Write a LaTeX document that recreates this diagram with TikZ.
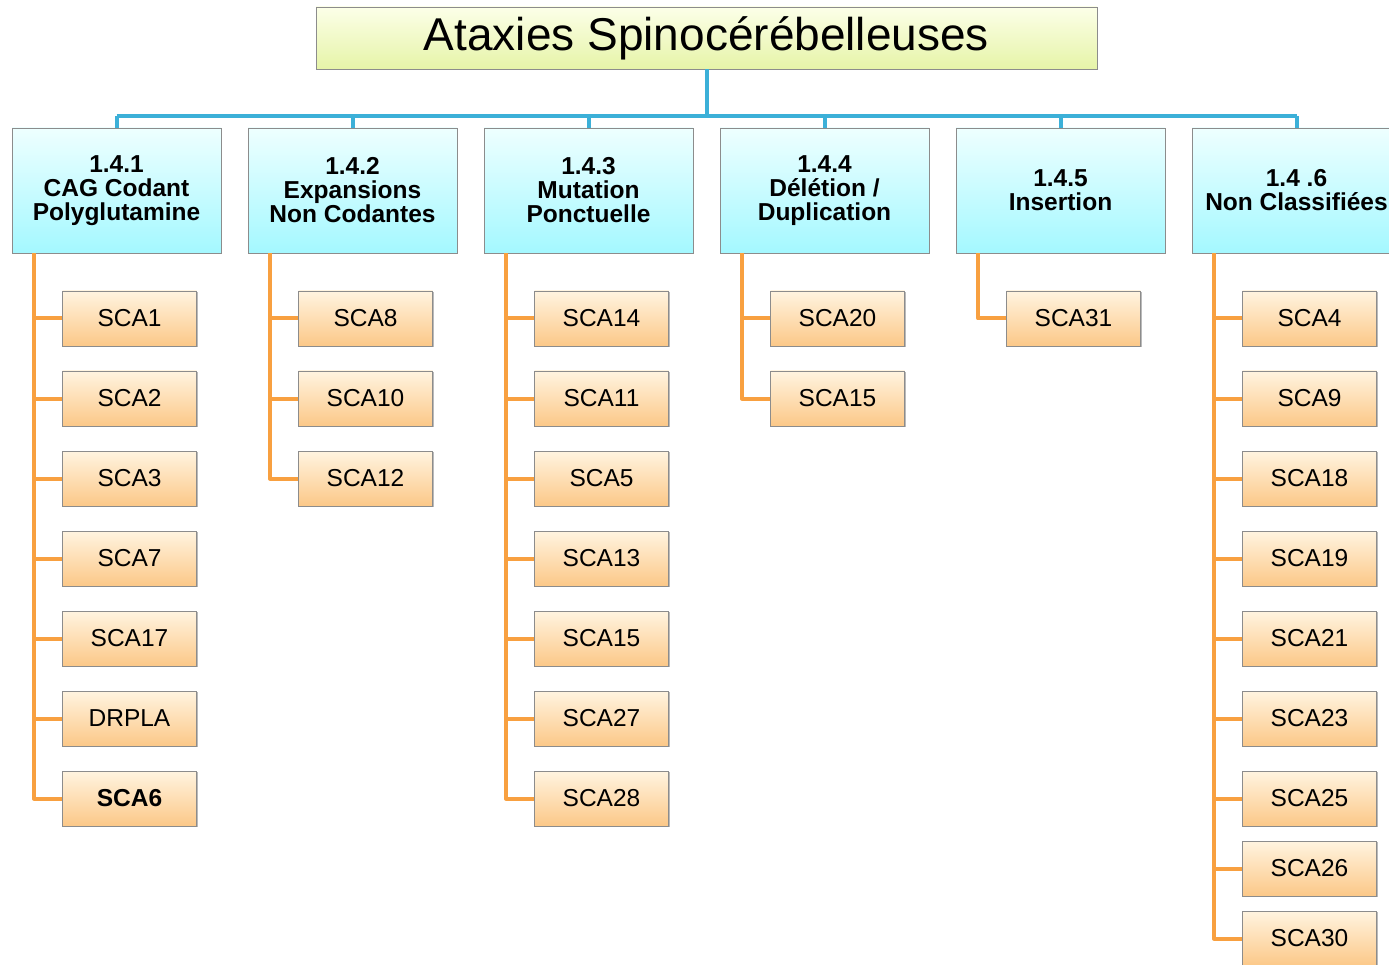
\documentclass[tikz,border=0pt]{standalone}
\usepackage{fontspec}
\setmainfont{Liberation Sans}
\usetikzlibrary{positioning,shadows}
\definecolor{scablue}{RGB}{60,176,216}
\definecolor{scaorange}{RGB}{248,160,64}
\definecolor{scagray}{RGB}{140,140,140}
\definecolor{headtop}{RGB}{252,255,232}
\definecolor{headbot}{RGB}{230,244,168}
\definecolor{famtop}{RGB}{238,255,255}
\definecolor{fambot}{RGB}{164,248,255}
\definecolor{genetop}{RGB}{255,244,224}
\definecolor{genebot}{RGB}{252,200,136}

\begin{document}
\begin{tikzpicture}[
  x=1pt, y=-1pt,
  every node/.style={inner sep=0pt, align=center},
  headbox/.style={draw=scagray, top color=headtop, bottom color=headbot,
    minimum width=781pt, minimum height=62pt,
    font=\fontsize{46}{50}\selectfont},
  family/.style={draw=scagray, top color=famtop, bottom color=fambot,
    minimum width=209pt, minimum height=125pt,
    drop shadow={shadow xshift=1pt, shadow yshift=-1pt, fill=black!40, opacity=0.6},
    font=\fontsize{24.5}{24}\selectfont\bfseries},
  gene/.style={draw=scagray, top color=genetop, bottom color=genebot,
    minimum width=134pt, minimum height=55pt,
    drop shadow={shadow xshift=1.2pt, shadow yshift=-1.2pt, fill=black!45, opacity=0.6},
    font=\fontsize{24.5}{26}\selectfont},
  link/.style={draw=scablue, line width=4pt},
  branch/.style={draw=scaorange, line width=4pt, line join=round}
]
  \useasboundingbox (0,0) rectangle (1389,965);
  \clip (0,0) rectangle (1389,965);

  % title and families
  \node[headbox] (ataxie) at (706.5,38) {Ataxies Spinocérébelleuses};
  \node[family] (cag) at (116.5,190.5) {1.4.1\\CAG Codant\\Polyglutamine};
  \node[family] (expan) at (352.5,190.5) {1.4.2\\Expansions\\Non Codantes};
  \node[family] (ponct) at (588.5,190.5) {1.4.3\\Mutation\\Ponctuelle};
  \node[family] (delet) at (824.5,190.5) {1.4.4\\Délétion /\\Duplication};
  \node[family] (insert) at (1060.5,190.5) {1.4.5\\Insertion};
  \node[family] (nonclass) at (1296.5,190.5) {1.4 .6\\Non Classifiées};

  \coordinate (bar) at (706.5,116);
  \draw[link] (ataxie.south) -- (bar);
  \draw[link] (bar -| cag.north) -- (bar -| nonclass.north);
  \foreach \f in {cag,expan,ponct,delet,insert,nonclass}
    \draw[link] (bar -| \f.north) -- (\f.north);

  % genes
  \foreach \g [count=\i] in {SCA1,SCA2,SCA3,SCA7,SCA17,DRPLA}
    \node[gene] (cag-\i) at (129.5,{238.5+80*\i}) {\g};
  \node[gene, font=\fontsize{24.5}{26}\selectfont\bfseries] (cag-7) at (129.5,798.5) {SCA6};
  \foreach \g [count=\i] in {SCA8,SCA10,SCA12}
    \node[gene] (expan-\i) at (365.5,{238.5+80*\i}) {\g};
  \foreach \g [count=\i] in {SCA14,SCA11,SCA5,SCA13,SCA15,SCA27,SCA28}
    \node[gene] (ponct-\i) at (601.5,{238.5+80*\i}) {\g};
  \foreach \g [count=\i] in {SCA20,SCA15}
    \node[gene] (delet-\i) at (837.5,{238.5+80*\i}) {\g};
  \node[gene] (insert-1) at (1073.5,318.5) {SCA31};
  \foreach \g [count=\i] in {SCA4,SCA9,SCA18,SCA19,SCA21,SCA23,SCA25}
    \node[gene] (nonclass-\i) at (1309.5,{238.5+80*\i}) {\g};
  \node[gene] (nonclass-8) at (1309.5,868.5) {SCA26};
  \node[gene] (nonclass-9) at (1309.5,938.5) {SCA30};

  % branches
  \foreach \f/\n in {cag/7,expan/3,ponct/7,delet/2,insert/1,nonclass/9}
    \foreach \i in {1,...,\n}
      \draw[branch] ([xshift=-82.5pt]\f.south) |- (\f-\i.west);
\end{tikzpicture}
\end{document}
